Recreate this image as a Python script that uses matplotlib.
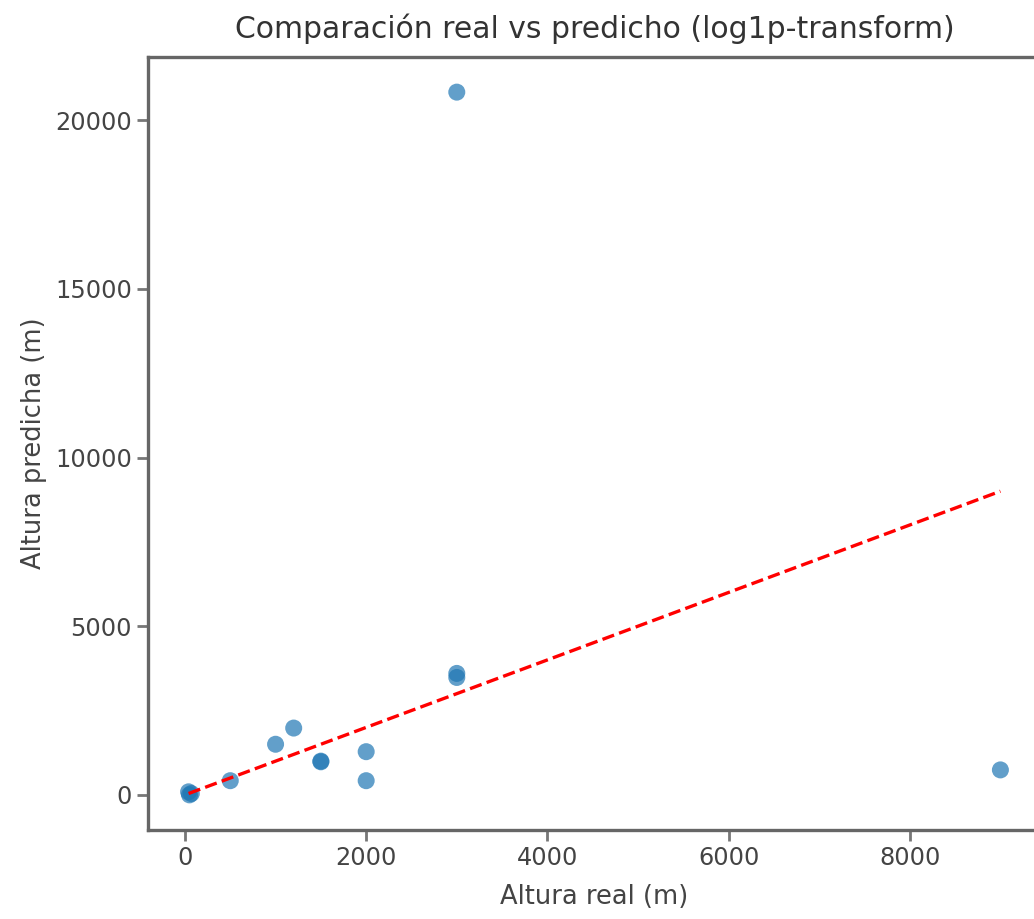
import matplotlib.pyplot as plt
import numpy as np

# valores
altura_real = [40, 50, 70, 500, 1000, 1200, 1500, 1500, 2000, 2000, 3000, 3000, 3000, 9000]
altura_pred = [90, 0, 40, 420, 1500, 1980, 980, 1000, 1280, 420, 3480, 3600, 20830, 740]


def main() -> None:
    y_true = np.asarray(altura_real, dtype=float)
    y_pred = np.asarray(altura_pred, dtype=float)

    fig = plt.figure(figsize=(10.34, 9.19), dpi=100)
    ax = fig.add_axes([148 / 1034, 1 - 830 / 919, (1041 - 148) / 1034, (830 - 57) / 919])

    ax.scatter(y_true, y_pred, s=150, alpha=0.7, color="#1f77b4", edgecolors="none")
    lims = [y_true.min(), y_true.max()]
    ax.plot(lims, lims, "r--", lw=2.4)

    ax.set_title("Comparación real vs predicho (log1p-transform)", fontsize=21.5, color="#333333", pad=14)
    ax.set_xlabel("Altura real (m)", fontsize=18.5, color="#444444", labelpad=10)
    ax.set_ylabel("Altura predicha (m)", fontsize=18.5, color="#444444", labelpad=6)

    ax.set_xticks([0, 2000, 4000, 6000, 8000])
    ax.set_yticks([0, 5000, 10000, 15000, 20000])
    ax.tick_params(labelsize=17.3, labelcolor="#444444", color="#777777", width=2.0, length=8)
    for sp in ax.spines.values():
        sp.set_color("#666666")
        sp.set_linewidth(2.4)

    fig.savefig("out.png", dpi=100)
    plt.close(fig)


if __name__ == "__main__":
    main()
